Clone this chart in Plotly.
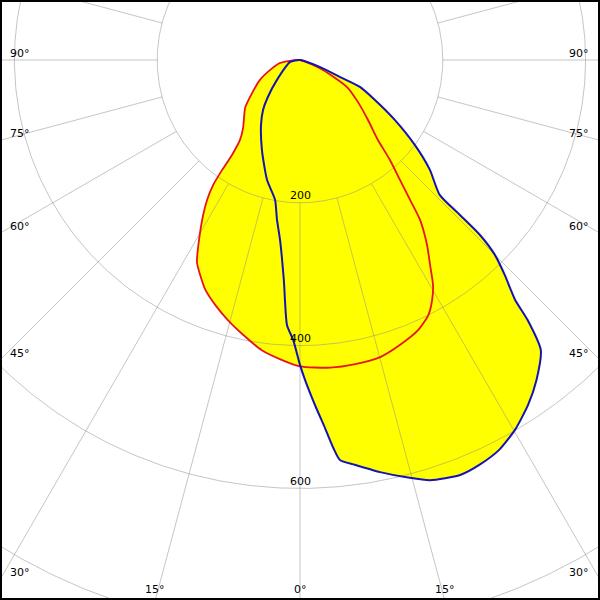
import numpy as np
import plotly.graph_objects as go

# Luminous intensity curves (angle from nadir in degrees, intensity in cd)
blue_angle = [-78.7, -49, -40.9, -36.5, -31, -22.9, -15.4, -10.1, -8.2, -6.3, -4.2, -2.8, -1.4, 0, 0.9,
              2.5, 3.9, 4.9, 5.7, 7.7, 11, 14.7, 17.2, 21.1, 24, 27.1, 30.2, 33.5, 36.5, 39.7, 41.2,
              41.9, 43.6, 45, 45.8, 45.9, 46, 49.8, 53.5, 57.7, 61.9, 65.8, 67, 70.7]
blue_cd = [14, 43, 69, 87, 106, 137, 174, 199, 226, 254, 309, 372, 392, 427, 448, 484, 517, 545, 563,
           572, 588, 605, 616, 623, 620, 613, 599, 579, 557, 528, 484, 451, 416, 386, 352, 312, 272,
           238, 200, 157, 119, 92, 61, 30]

red_angle = [-81.5, -71.6, -63.4, -53.5, -48.9, -40, -36.9, -35.6, -35.3, -34.8, -33.6, -32, -29.3,
             -27, -24.9, -22.4, -19.1, -15.5, -11.7, -7.5, -3.4, 0, 5.6, 10.3, 15.1, 19.3, 23.6, 26.7,
             28.8, 30.6, 32.4, 34.5, 36.9, 38.2, 39.8, 42, 44.3, 48.6, 54.1, 60.1, 66.5]
red_cd = [28, 44, 63, 87, 102, 124, 140, 164, 189, 213, 235, 256, 289, 318, 332, 348, 363, 378, 393,
          410, 421, 429, 433, 433, 431, 423, 413, 400, 384, 366, 340, 314, 280, 249, 219, 188, 156,
          127, 100, 76, 35]

ring_values = [200, 400, 600, 800]
ring_labels = ["200", "400", "600"]
spoke_angles = list(range(-180, 180, 15))
side_label_angles = [90, 75, 60, 45, 30]
bottom_label_angles = [15, 0, -15]

# layout geometry
W = H = 600
CX, CY = 300, 60          # pixel position of the centre
PX = 0.714                # pixels per cd
x_range = [-CX / PX, (W - CX) / PX]
y_range = [-(H - CY) / PX, CY / PX]


def to_xy(ang, cd):
    t = np.radians(np.asarray(ang, dtype=float))
    r = np.asarray(cd, dtype=float)
    return r * np.sin(t), -r * np.cos(t)


def closed(ang, cd):
    x, y = to_xy(ang, cd)
    return np.concatenate([[0], x, [0]]), np.concatenate([[0], y, [0]])


bx, by = closed(blue_angle, blue_cd)
rx, ry = closed(red_angle, red_cd)

fig = go.Figure()
for xx, yy in [(bx, by), (rx, ry)]:
    fig.add_trace(go.Scatter(x=xx, y=yy, mode="lines", fill="toself", fillcolor="#ffff00",
                             line=dict(width=0, color="#ffff00", shape="spline", smoothing=0.6),
                             hoverinfo="skip", showlegend=False))

# grid circles
th = np.linspace(0, 2 * np.pi, 721)
gx, gy = [], []
for rv in ring_values:
    gx += list(rv * np.cos(th)) + [None]
    gy += list(rv * np.sin(th)) + [None]
# spokes
for a in spoke_angles:
    x0, y0 = to_xy([a, a], [ring_values[0], 1200])
    gx += list(x0) + [None]
    gy += list(y0) + [None]
fig.add_trace(go.Scatter(x=gx, y=gy, mode="lines", line=dict(color="rgba(140,140,140,0.5)", width=1),
                         hoverinfo="skip", showlegend=False))

fig.add_trace(go.Scatter(x=rx, y=ry, mode="lines",
                         line=dict(color="#e8141c", width=1.8, shape="spline", smoothing=0.6),
                         hoverinfo="skip", showlegend=False))
fig.add_trace(go.Scatter(x=bx, y=by, mode="lines",
                         line=dict(color="#1414b4", width=2, shape="spline", smoothing=0.6),
                         hoverinfo="skip", showlegend=False))

font = dict(family="DejaVu Sans", size=11, color="black")
ann = []
for lab, rv in zip(ring_labels, ring_values):
    ann.append(dict(x=0, y=-rv, text=lab, showarrow=False, xanchor="center", yanchor="middle",
                    yshift=7, font=font))
for a in side_label_angles:
    t = np.radians(a)
    yl = -(x_range[1]) / np.tan(t)
    ann.append(dict(x=x_range[0], y=yl, text=f"{a}°", showarrow=False, xanchor="left",
                    yanchor="middle", xshift=8, yshift=7, font=font))
    ann.append(dict(x=x_range[1], y=yl, text=f"{a}°", showarrow=False, xanchor="right",
                    yanchor="middle", xshift=-9, yshift=7, font=font))
for a in bottom_label_angles:
    t = np.radians(a)
    xl = -y_range[0] * np.tan(t)
    ann.append(dict(x=xl, y=y_range[0], text=f"{abs(a)}°", showarrow=False, xanchor="center",
                    yanchor="middle", yshift=11, font=font))

fig.update_layout(
    width=W, height=H, margin=dict(l=0, r=0, t=0, b=0),
    paper_bgcolor="white", plot_bgcolor="white",
    xaxis=dict(range=x_range, visible=False, fixedrange=True),
    yaxis=dict(range=y_range, visible=False, fixedrange=True),
    annotations=ann,
    shapes=[dict(type="rect", xref="paper", yref="paper", x0=0, y0=0, x1=1, y1=1,
                 line=dict(color="black", width=4))],
)
fig.write_html("out.html", config={"displayModeBar": False},
               post_script="document.body.style.margin='0';document.body.style.overflow='hidden';")
